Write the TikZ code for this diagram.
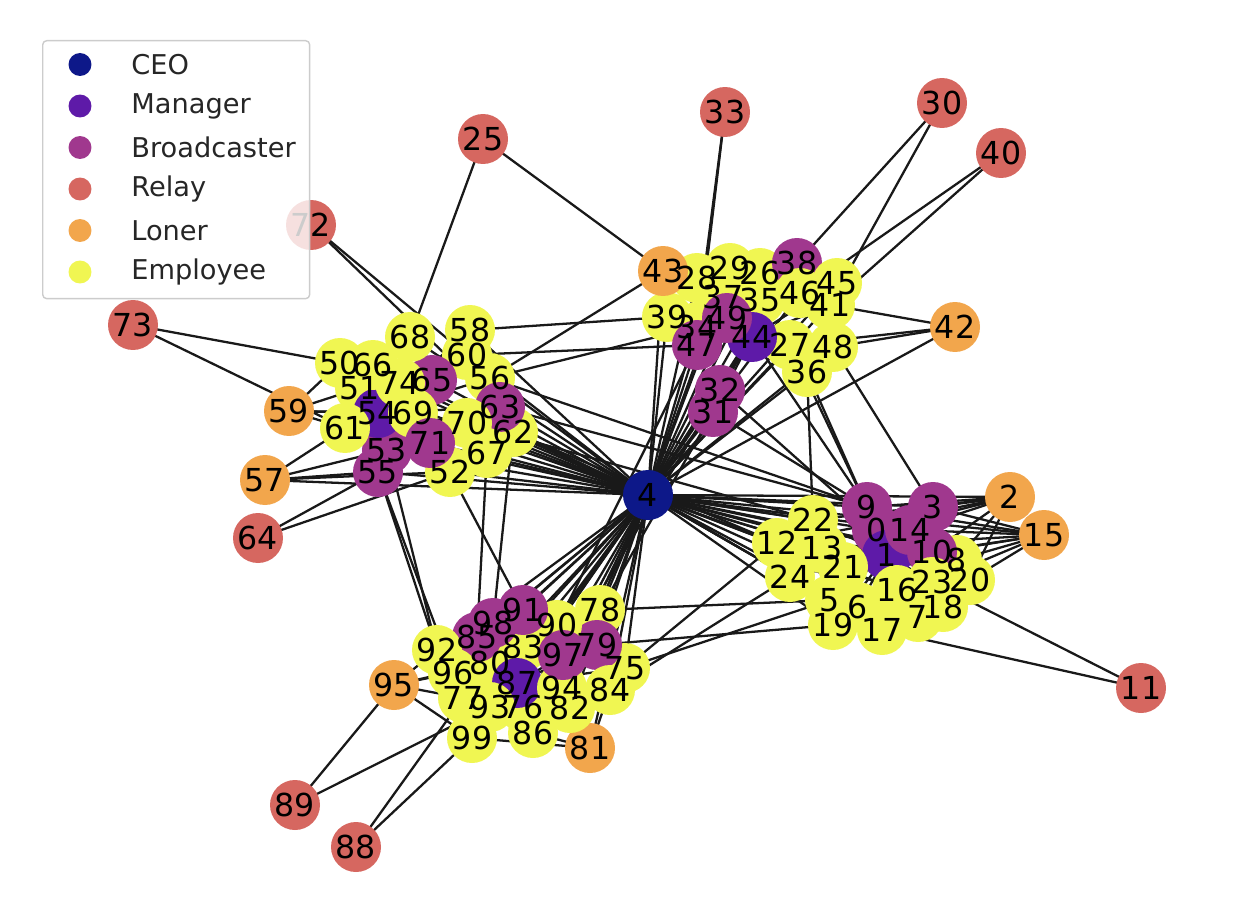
\documentclass[tikz,border=0pt]{standalone}
\usepackage{fontspec}
\setmainfont{DejaVu Sans}
\usetikzlibrary{positioning}

\definecolor{ceocol}{RGB}{13,24,137}
\definecolor{mgrcol}{RGB}{94,26,168}
\definecolor{bcastcol}{RGB}{160,56,142}
\definecolor{relaycol}{RGB}{214,103,96}
\definecolor{lonercol}{RGB}{242,166,76}
\definecolor{empcol}{RGB}{240,246,82}

\pgfdeclarelayer{edges}
\pgfdeclarelayer{labels}
\pgfdeclarelayer{legend}
\pgfsetlayers{edges,main,labels,legend}

\begin{document}
\begin{tikzpicture}[
    x=0.02cm, y=-0.02cm,
    vtx/.style={circle, inner sep=0pt, minimum size=1cm},
    ceo/.style={vtx, fill=ceocol},
    mgr/.style={vtx, fill=mgrcol},
    bcast/.style={vtx, fill=bcastcol},
    relay/.style={vtx, fill=relaycol},
    loner/.style={vtx, fill=lonercol},
    emp/.style={vtx, fill=empcol},
    lbl/.style={inner sep=0pt, font=\fontsize{18}{18}\selectfont, text=black},
    link/.style={line width=1.3pt, draw=black!90},
    legframe/.style={draw=black!20, line width=0.8pt, fill=white, fill opacity=0.8,
                     rounded corners=0.08cm, anchor=north west,
                     minimum width=5.34cm, minimum height=5.16cm},
    legdot/.style={minimum size=0.46cm},
    legtxt/.style={anchor=west, inner sep=0pt, font=\fontsize{15.5}{15.5}\selectfont, text=black!85},
]
\useasboundingbox (0,0) rectangle (1236,922);

% Nodes (drawn in index order, later ones on top)
\foreach \i/\x/\y/\r in {
    0/877/530/bcast, 1/887/555/mgr, 2/1010/497/loner, 3/933/507/bcast,
    4/648/495/ceo, 5/830/600/emp, 6/858/607/emp, 7/918/617/emp,
    8/957/560/emp, 9/867/507/bcast, 10/932/552/bcast, 11/1141/688/relay,
    12/777/543/emp, 13/822/548/emp, 14/910/530/bcast, 15/1044/535/loner,
    16/897/590/emp, 17/882/630/emp, 18/943/607/emp, 19/833/625/emp,
    20/970/580/emp, 21/843/567/emp, 22/813/520/emp, 23/932/582/emp,
    24/790/577/emp,
    25/483/139/relay, 26/760/273/emp, 27/790/345/emp, 28/697/278/emp,
    29/730/268/emp, 30/942/103/relay, 31/713/412/bcast, 32/720/390/bcast,
    33/725/112/relay, 34/697/327/emp, 35/760/300/emp, 36/807/372/emp,
    37/723/297/emp, 38/797/263/bcast, 39/667/317/emp, 40/1001/153/relay,
    41/830/305/emp, 42/955/327/loner, 43/663/271/loner, 44/752/337/mgr,
    45/837/283/emp, 46/800/293/emp, 47/697/345/bcast, 48/833/347/emp,
    49/727/318/bcast,
    50/340/363/emp, 51/360/388/emp, 52/450/472/emp, 53/387/450/bcast,
    54/378/413/mgr, 55/378/472/bcast, 56/490/378/emp, 57/265/480/loner,
    58/470/330/emp, 59/289/411/loner, 60/467/355/emp, 61/345/428/emp,
    62/513/432/emp, 63/500/407/bcast, 64/258/538/relay, 65/432/380/bcast,
    66/373/365/emp, 67/487/453/emp, 68/410/337/emp, 69/413/413/emp,
    70/467/423/emp, 71/430/443/bcast, 72/311/225/relay, 73/133/325/relay,
    74/400/383/emp,
    75/625/668/emp, 76/523/707/emp, 77/463/698/emp, 78/600/610/emp,
    79/597/645/bcast, 80/490/663/emp, 81/590/748/loner, 82/570/708/emp,
    83/523/647/emp, 84/610/690/emp, 85/477/637/bcast, 86/533/733/emp,
    87/517/683/mgr, 88/356/847/relay, 89/295/805/relay, 90/557/625/emp,
    91/523/610/bcast, 92/437/650/emp, 93/490/707/emp, 94/562/688/emp,
    95/394/685/loner, 96/453/673/emp, 97/563/655/bcast, 98/493/623/bcast,
    99/472/738/emp}
    \node[\r] (n\i) at (\x,\y) {};

% Labels
\begin{pgfonlayer}{labels}
\foreach \i in {0,...,99}
    \node[lbl] (t\i) at (n\i) {\i};
\end{pgfonlayer}

\begin{pgfonlayer}{edges}
% CEO to every team member
\foreach \b in {0,1,3,5,6,7,8,9,10,12,13,14,16,17,18,19,20,21,22,23,24,
                26,27,28,29,31,32,34,35,36,37,38,39,41,44,45,46,47,48,49,
                50,51,52,53,54,55,56,58,60,61,62,63,65,66,67,68,69,70,71,74,
                75,76,77,78,79,80,82,83,84,85,86,87,90,91,92,93,94,96,97,98,99,
                2,15,42,43,57,81}
    \draw[link] (n4.center) -- (n\b.center);
% Managers to their teams
\foreach \b in {0,3,5,6,7,8,9,10,12,13,14,16,17,18,19,20,21,22,23,24}
    \draw[link] (n1.center) -- (n\b.center);
\foreach \b in {26,27,28,29,31,32,34,35,36,37,38,39,41,45,46,47,48,49}
    \draw[link] (n44.center) -- (n\b.center);
\foreach \b in {50,51,52,53,55,56,58,60,61,62,63,65,66,67,68,69,70,71,74}
    \draw[link] (n54.center) -- (n\b.center);
\foreach \b in {75,76,77,78,79,80,82,83,84,85,86,90,91,92,93,94,96,97,98,99}
    \draw[link] (n87.center) -- (n\b.center);
% Relays
\foreach \a/\b in {25/68, 25/43, 33/34, 33/47, 30/38, 30/41, 40/46, 40/41,
                   72/60, 72/63, 73/50, 73/61, 64/55, 64/52, 11/23, 11/17,
                   89/95, 89/93, 88/77, 88/99}
    \draw[link] (n\a.center) -- (n\b.center);
% Loners
\foreach \a/\b in {2/3, 2/9, 2/14, 2/0, 2/10, 2/22, 2/12, 2/8, 2/20,
                   15/3, 15/14, 15/10, 15/9, 15/8, 15/20, 15/13, 15/21, 15/23,
                   43/28, 43/39, 43/56, 42/41, 42/48, 42/27,
                   59/50, 59/51, 59/61, 59/54, 59/69, 57/61, 57/55, 57/53, 57/52,
                   95/92, 95/96, 95/77, 95/80, 95/99,
                   81/99, 81/82, 81/86, 81/84}
    \draw[link] (n\a.center) -- (n\b.center);
% Between teams
\foreach \a/\b in {58/39, 60/47, 56/34, 62/12, 63/9, 70/22, 56/9,
                   36/9, 27/9, 44/9, 31/9, 48/3, 36/22, 32/0,
                   78/5, 84/24, 75/12, 79/19, 75/5, 90/47, 78/31, 97/32,
                   55/92, 55/96, 53/92, 67/85, 62/98, 52/91}
    \draw[link] (n\a.center) -- (n\b.center);
\end{pgfonlayer}

% Legend
\begin{pgfonlayer}{legend}
\node[legframe] (legend) at (42,40) {};
\foreach \r/\t [count=\k] in {ceo/CEO, mgr/Manager, bcast/Broadcaster,
                              relay/Relay, loner/Loner, emp/Employee} {
    \node[\r, legdot] (d\k) at (80,23+41.5*\k) {};
    \node[legtxt] (e\k) at (131,23+41.5*\k) {\t};
}
\end{pgfonlayer}
\end{tikzpicture}
\end{document}
